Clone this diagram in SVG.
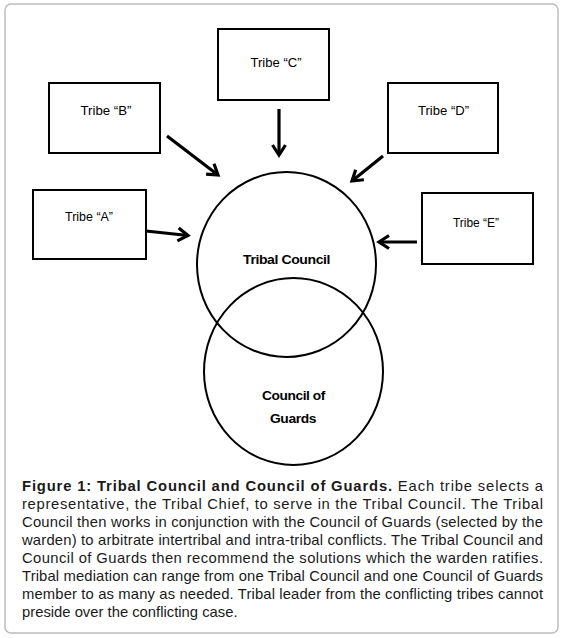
<svg xmlns="http://www.w3.org/2000/svg" width="564" height="638" viewBox="0 0 564 638">
<style>
.box{fill:#fff;stroke:#000;stroke-width:2}
.circ{fill:none;stroke:#000;stroke-width:2}
.tl{font-family:"Liberation Sans",Arial,sans-serif;font-size:12px;fill:#000;text-anchor:middle}
.cl{font-family:"Liberation Sans",Arial,sans-serif;font-size:13.5px;font-weight:bold;fill:#000;text-anchor:middle;letter-spacing:-0.4px}
.cap{font-family:"Liberation Sans",Arial,sans-serif;font-size:14.8px;fill:#1a1a1a}
.arr{stroke:#000;stroke-width:3.2;fill:none;marker-end:url(#ah)}
</style>
<defs>
<marker id="ah" viewBox="-14 -9 18 18" refX="0" refY="0" markerUnits="userSpaceOnUse" markerWidth="18" markerHeight="18" orient="auto">
<path d="M-10,-6.5 L0,0 L-10,6.5" fill="none" stroke="#000" stroke-width="3.2" stroke-linejoin="miter" stroke-miterlimit="4"/>
</marker>
</defs>
<rect x="5" y="4" width="553" height="629" rx="6" ry="6" fill="#fff" stroke="#bdbdbd" stroke-width="1.5"/>
<g id="tribal-council">
<ellipse class="circ" cx="286.5" cy="264.5" rx="89.5" ry="92.5"/>
<text class="cl" x="286.5" y="264" textLength="87" lengthAdjust="spacingAndGlyphs">Tribal Council</text>
</g>
<g id="council-of-guards">
<ellipse class="circ" cx="293.5" cy="371.5" rx="89.5" ry="93.5"/>
<text class="cl" x="293.5" y="400" textLength="63" lengthAdjust="spacingAndGlyphs">Council of</text>
<text class="cl" x="293" y="423" textLength="46" lengthAdjust="spacingAndGlyphs">Guards</text>
</g>
<g id="tribe-c">
<rect class="box" x="218" y="29" width="111" height="71"/>
<text class="tl" x="276" y="66.5" textLength="51" lengthAdjust="spacingAndGlyphs">Tribe “C”</text>
</g>
<g id="tribe-b">
<rect class="box" x="49" y="83" width="111" height="70"/>
<text class="tl" x="106" y="115" textLength="51" lengthAdjust="spacingAndGlyphs">Tribe “B”</text>
</g>
<g id="tribe-d">
<rect class="box" x="388" y="83" width="110" height="70"/>
<text class="tl" x="443.5" y="115" textLength="51" lengthAdjust="spacingAndGlyphs">Tribe “D”</text>
</g>
<g id="tribe-a">
<rect class="box" x="33" y="190" width="113" height="69"/>
<text class="tl" x="89" y="220.5" textLength="48" lengthAdjust="spacingAndGlyphs">Tribe “A”</text>
</g>
<g id="tribe-e">
<rect class="box" x="422" y="193" width="111" height="71"/>
<text class="tl" x="476" y="226.5" textLength="46" lengthAdjust="spacingAndGlyphs">Tribe “E”</text>
</g>
<g id="connectors">
<line class="arr" x1="279" y1="109" x2="279" y2="155"/>
<line class="arr" x1="167" y1="136" x2="218" y2="175"/>
<line class="arr" x1="383" y1="156" x2="352" y2="181"/>
<line class="arr" x1="146" y1="231" x2="188" y2="235.5"/>
<line class="arr" x1="417" y1="242" x2="379" y2="242"/>
</g>
<g id="caption">
<text class="cap" x="22" y="490.5" textLength="521" lengthAdjust="spacing"><tspan font-weight="bold">Figure 1: Tribal Council and Council of Guards.</tspan> Each tribe selects a</text>
<text class="cap" x="22" y="508.6" textLength="521" lengthAdjust="spacing">representative, the Tribal Chief, to serve in the Tribal Council. The Tribal</text>
<text class="cap" x="22" y="526.7" textLength="521" lengthAdjust="spacing">Council then works in conjunction with the Council of Guards (selected by the</text>
<text class="cap" x="22" y="544.8" textLength="521" lengthAdjust="spacing">warden) to arbitrate intertribal and intra-tribal conflicts.  The Tribal Council and</text>
<text class="cap" x="22" y="562.9" textLength="521" lengthAdjust="spacing">Council of Guards then recommend the solutions which the warden ratifies.</text>
<text class="cap" x="22" y="581" textLength="521" lengthAdjust="spacing">Tribal mediation can range from one Tribal Council and one Council of Guards</text>
<text class="cap" x="22" y="599.1" textLength="521" lengthAdjust="spacing">member to as many as needed. Tribal leader from the conflicting tribes cannot</text>
<text class="cap" x="22" y="617.2">preside over the conflicting case.</text>
</g>
</svg>
